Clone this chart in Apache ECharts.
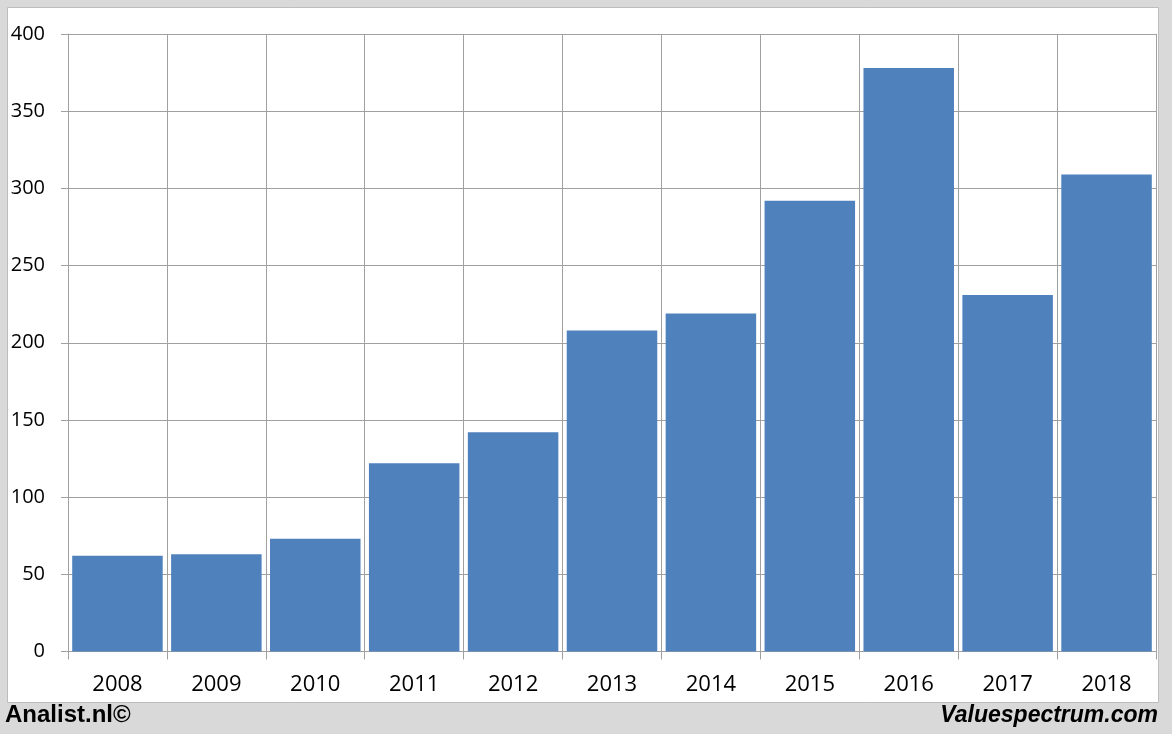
<!DOCTYPE html>
<html>
<head>
<meta charset="utf-8">
<script src="https://cdn.jsdelivr.net/npm/echarts@6/dist/echarts.min.js"></script>
<style>
html,body{margin:0;padding:0;background:#d9d9d9;}
#chart{width:1172px;height:734px;}
</style>
</head>
<body>
<div id="chart"></div>
<script>
const categories = ['2008','2009','2010','2011','2012','2013','2014','2015','2016','2017','2018'];
const values = [62, 63, 73, 122, 142, 208, 219, 292, 378, 231, 309];
const yTicks = [0, 50, 100, 150, 200, 250, 300, 350, 400];

const chart = echarts.init(document.getElementById('chart'), null, {renderer:'canvas'});
const gridColor = '#a0a0a0';
chart.setOption({
  backgroundColor: '#d9d9d9',
  animation: false,
  graphic: [
    {type:'rect', z:-10, shape:{x:7.5, y:7.5, width:1151, height:695}, style:{fill:'#ffffff', stroke:'#bdbdbd', lineWidth:1}},
    {type:'text', left:5, top:703, style:{text:'Analist.nl©', font:'bold 24px "Liberation Sans", Arial, sans-serif', fill:'#000'}},
    {type:'text', right:14, top:704, style:{text:'Valuespectrum.com', font:'italic bold 23px "Liberation Sans", Arial, sans-serif', fill:'#000'}}
  ],
  grid: {left:68, right:16, top:34, bottom:82.5, containLabel:false},
  xAxis: {
    type:'category',
    data: categories,
    boundaryGap: true,
    axisLine:{show:true, lineStyle:{color:gridColor, width:1}},
    axisTick:{show:true, length:8, alignWithLabel:false, lineStyle:{color:gridColor}},
    splitLine:{show:true, lineStyle:{color:gridColor, width:1}},
    axisLabel:{color:'#000', fontSize:22, fontFamily:'"Open Sans", sans-serif', margin:22}
  },
  yAxis: {
    type:'value',
    min: yTicks[0],
    max: yTicks[yTicks.length-1],
    interval: 50,
    axisLine:{show:true, lineStyle:{color:gridColor, width:1}},
    axisTick:{show:true, length:7, lineStyle:{color:gridColor}},
    splitLine:{show:true, lineStyle:{color:gridColor, width:1}},
    axisLabel:{color:'#000', fontSize:20, fontFamily:'"Open Sans", sans-serif', margin:23}
  },
  series: [{
    type:'bar',
    data: values,
    barCategoryGap:'8.5%',
    itemStyle:{color:'#4f81bd'},
    z: 3
  }]
});
</script>
</body>
</html>
